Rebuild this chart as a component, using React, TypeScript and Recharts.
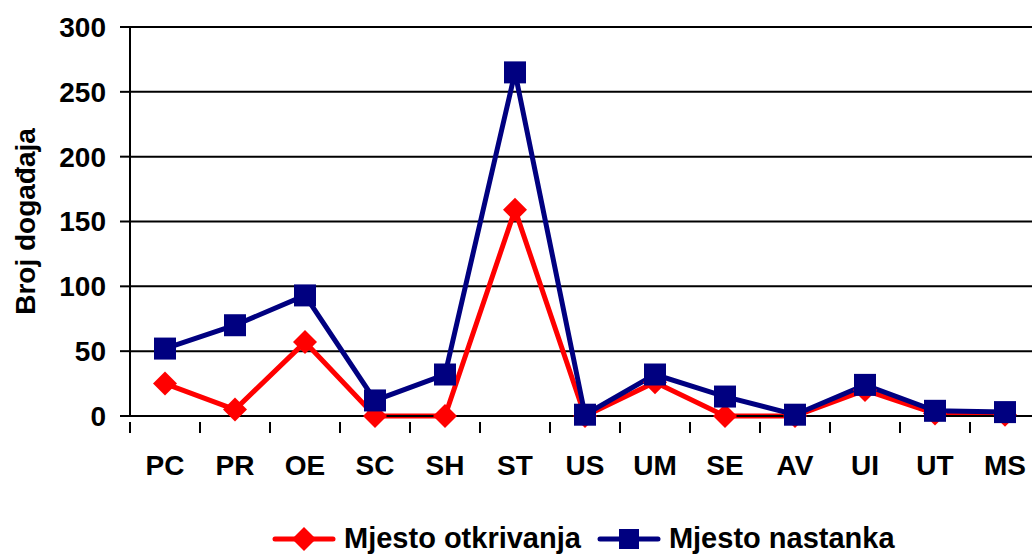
import React from "react";
import { LineChart, Line, XAxis, YAxis, CartesianGrid } from "recharts";

const categories = ["PC", "PR", "OE", "SC", "SH", "ST", "US", "UM", "SE", "AV", "UI", "UT", "MS"];
const otkrivanja = [25, 5, 57, 0, 0, 159, 0, 26, 0, 0, 20, 2, 1];
const nastanka = [52, 70, 93, 12, 32, 265, 1, 32, 15, 1, 24, 4, 3];
const yTicks = [0, 50, 100, 150, 200, 250, 300];

const RED = "#FF0000";
const BLUE = "#000080";
const FONT = "'Liberation Sans', Arial, sans-serif";
const HALF_STEP = 35;

const data = categories.map((name, i) => ({
  name,
  otkrivanja: otkrivanja[i],
  nastanka: nastanka[i],
}));

const Diamond = (props: any) => {
  const { cx, cy } = props;
  if (cx == null || cy == null) return null;
  const r = 12;
  return (
    <polygon
      points={`${cx},${cy - r} ${cx + r},${cy} ${cx},${cy + r} ${cx - r},${cy}`}
      fill={RED}
    />
  );
};

const Square = (props: any) => {
  const { cx, cy } = props;
  if (cx == null || cy == null) return null;
  const s = 11;
  return <rect x={cx - s} y={cy - s} width={s * 2} height={s * 2} fill={BLUE} />;
};

const XTick = (props: any) => {
  const { x, y, payload, index } = props;
  const last = index === categories.length - 1;
  return (
    <g>
      <line x1={x - HALF_STEP} x2={x - HALF_STEP} y1={y - 2} y2={y + 9} stroke="#000" strokeWidth={2} />
      {last && (
        <line x1={x + HALF_STEP} x2={x + HALF_STEP} y1={y - 2} y2={y + 9} stroke="#000" strokeWidth={2} />
      )}
      <text
        x={x}
        y={y + 51}
        textAnchor="middle"
        fontFamily={FONT}
        fontWeight="bold"
        fontSize={28}
        fill="#000"
      >
        {payload.value}
      </text>
    </g>
  );
};

const YLabel = (props: any) => {
  const { viewBox } = props;
  const bx = 35;
  const cy = viewBox.y + viewBox.height / 2;
  return (
    <text
      x={bx}
      y={cy}
      transform={`rotate(-90 ${bx} ${cy})`}
      textAnchor="middle"
      fontFamily={FONT}
      fontWeight="bold"
      fontSize={28}
      fill="#000"
    >
      Broj događaja
    </text>
  );
};

const LegendItem = ({
  color,
  label,
  marker,
  gap,
}: {
  color: string;
  label: string;
  marker: "diamond" | "square";
  gap: number;
}) => (
  <div style={{ display: "flex", alignItems: "center", marginRight: gap }}>
    <svg width={64} height={26} style={{ display: "block" }}>
      <line x1={3} x2={61} y1={13} y2={13} stroke={color} strokeWidth={5} strokeLinecap="round" />
      {marker === "diamond" ? (
        <polygon points="32,1 44,13 32,25 20,13" fill={color} />
      ) : (
        <rect x={22} y={3} width={20} height={20} fill={color} />
      )}
    </svg>
    <span
      style={{
        fontFamily: FONT,
        fontWeight: "bold",
        fontSize: 29,
        color: "#000",
        marginLeft: 8,
        whiteSpace: "nowrap",
      }}
    >
      {label}
    </span>
  </div>
);

export default function App() {
  return (
    <div
      style={{
        position: "absolute",
        left: 0,
        top: 0,
        width: 1032,
        height: 556,
        overflow: "hidden",
        background: "#fff",
      }}
    >
      <LineChart width={1040} height={556} data={data} margin={{ top: 27, right: 0, bottom: 90, left: 0 }}>
        <CartesianGrid horizontal vertical={false} stroke="#000" strokeWidth={2} />
        <XAxis
          dataKey="name"
          height={50}
          padding={{ left: HALF_STEP, right: HALF_STEP }}
          axisLine={{ stroke: "#000", strokeWidth: 2 }}
          tickLine={false}
          tick={<XTick />}
          interval={0}
        />
        <YAxis
          width={130}
          domain={[0, 300]}
          ticks={yTicks}
          interval={0}
          axisLine={{ stroke: "#000", strokeWidth: 2 }}
          tickLine={{ stroke: "#000", strokeWidth: 2 }}
          tickSize={10}
          tickMargin={14}
          tick={{ fontFamily: FONT, fontWeight: "bold", fontSize: 28, fill: "#000" }}
          label={<YLabel />}
        />
        <Line
          type="linear"
          dataKey="otkrivanja"
          stroke={RED}
          strokeWidth={5}
          dot={<Diamond />}
          activeDot={false}
          isAnimationActive={false}
        />
        <Line
          type="linear"
          dataKey="nastanka"
          stroke={BLUE}
          strokeWidth={5}
          dot={<Square />}
          activeDot={false}
          isAnimationActive={false}
        />
      </LineChart>
      <div style={{ position: "absolute", left: 272, top: 522, display: "flex", alignItems: "center" }}>
        <LegendItem color={RED} label="Mjesto otkrivanja" marker="diamond" gap={16} />
        <LegendItem color={BLUE} label="Mjesto nastanka" marker="square" gap={0} />
      </div>
    </div>
  );
}
